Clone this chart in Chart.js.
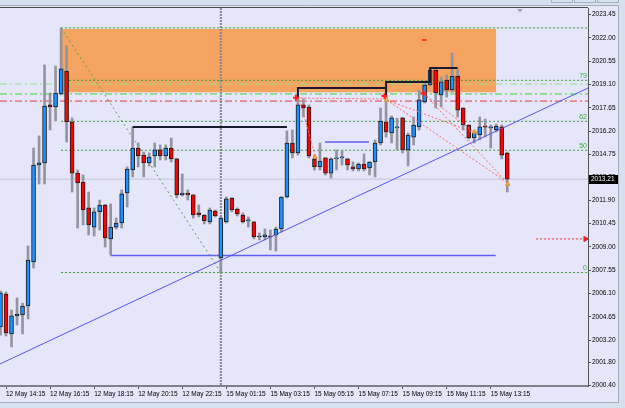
<!DOCTYPE html>
<html>
<head>
<meta charset="utf-8">
<script src="https://cdn.jsdelivr.net/npm/chart.js@4.4.1/dist/chart.umd.min.js"></script>
<style>
  html, body { margin: 0; padding: 0; background: #e6e6fa; overflow: hidden; }
  canvas { display: block; }
</style>
</head>
<body>
<canvas id="chart" width="625" height="408"></canvas>
<script>
// 15 minute candles, bar -1 .. 91 (bar 0 = 12 May 14:15)
var firstBar = -1;
var opens  = [2004.01, 2006.06, 2003.58, 2004.70, 2004.76, 2005.32, 2008.06, 2014.09, 2014.22, 2017.83,
              2017.70, 2018.51, 2019.94, 2016.77, 2013.59, 2013.03, 2011.42, 2010.23, 2011.17, 2011.60,
              2009.49, 2010.23, 2010.48, 2012.35, 2013.78, 2015.15, 2014.71, 2014.22, 2014.65, 2015.03,
              2014.65, 2015.15, 2014.47, 2012.23, 2012.35, 2012.23, 2011.11, 2010.98, 2010.55, 2011.23,
              2008.31, 2010.55, 2012.04, 2011.35, 2010.98, 2010.61, 2010.55, 2009.61, 2009.61, 2009.67,
              2009.74, 2010.11, 2012.10, 2015.46, 2014.84, 2017.83, 2017.70, 2014.47, 2013.97, 2014.53,
              2013.59, 2014.47, 2014.53, 2014.47, 2013.97, 2013.84, 2014.15, 2013.91, 2014.28, 2015.46,
              2016.77, 2016.08, 2016.40, 2017.02, 2015.03, 2015.83, 2016.46, 2018.01, 2019.07, 2020.00,
              2018.45, 2019.38, 2018.76, 2019.63, 2017.64, 2016.58, 2015.77, 2015.96, 2016.46, 2016.40,
              2016.27, 2016.46, 2014.84];
var highs  = [2006.25, 2006.19, 2005.07, 2005.82, 2005.50, 2009.05, 2015.15, 2015.90, 2020.32, 2018.57,
              2020.25, 2022.62, 2021.50, 2017.02, 2013.78, 2013.47, 2012.41, 2011.42, 2011.91, 2011.65,
              2011.67, 2010.79, 2012.54, 2013.97, 2016.46, 2015.46, 2014.90, 2014.84, 2015.46, 2015.34,
              2015.34, 2015.77, 2014.50, 2013.53, 2012.54, 2012.25, 2011.60, 2011.00, 2011.42, 2011.29,
              2010.86, 2012.10, 2012.06, 2011.42, 2011.11, 2010.86, 2010.57, 2009.86, 2010.11, 2010.05,
              2010.23, 2012.12, 2016.21, 2016.27, 2018.32, 2018.20, 2017.83, 2014.71, 2015.46, 2014.55,
              2014.53, 2015.03, 2014.96, 2014.50, 2014.28, 2014.22, 2014.78, 2014.30, 2015.65, 2017.64,
              2018.32, 2017.14, 2017.00, 2017.05, 2016.08, 2017.08, 2018.76, 2019.26, 2020.13, 2020.07,
              2019.57, 2019.69, 2021.06, 2020.00, 2017.66, 2016.60, 2016.21, 2017.08, 2016.95, 2016.58,
              2016.64, 2016.58, 2014.90];
var lows   = [2003.51, 2003.45, 2002.77, 2004.14, 2003.58, 2004.51, 2007.68, 2012.91, 2012.91, 2016.27,
              2016.83, 2018.45, 2015.52, 2012.41, 2010.17, 2010.36, 2009.74, 2009.67, 2010.05, 2008.99,
              2008.49, 2010.11, 2010.17, 2011.48, 2013.35, 2013.97, 2013.35, 2014.03, 2013.97, 2014.40,
              2014.40, 2014.28, 2012.04, 2012.16, 2011.91, 2010.79, 2010.86, 2010.42, 2010.42, 2010.86,
              2007.40, 2010.48, 2011.17, 2010.92, 2010.48, 2010.23, 2009.49, 2009.43, 2009.43, 2008.80,
              2008.74, 2009.92, 2012.04, 2014.53, 2014.71, 2017.08, 2014.53, 2013.78, 2013.78, 2013.47,
              2013.28, 2013.78, 2014.09, 2013.78, 2013.72, 2013.72, 2013.72, 2013.47, 2013.35, 2015.34,
              2015.83, 2015.46, 2015.03, 2014.84, 2014.03, 2015.34, 2016.27, 2017.95, 2019.01, 2017.64,
              2017.70, 2018.32, 2018.63, 2017.08, 2016.27, 2015.71, 2015.46, 2015.65, 2015.83, 2015.15,
              2016.15, 2014.47, 2012.41];
var closes = [2006.13, 2003.64, 2004.70, 2004.82, 2005.32, 2008.18, 2014.09, 2014.22, 2017.76, 2017.70,
              2018.57, 2020.07, 2016.77, 2013.59, 2012.97, 2011.29, 2010.36, 2011.17, 2011.60, 2009.55,
              2010.23, 2010.48, 2012.29, 2013.84, 2015.15, 2014.65, 2014.22, 2014.59, 2015.03, 2014.65,
              2015.15, 2014.47, 2012.23, 2012.35, 2012.23, 2010.98, 2010.98, 2010.61, 2011.29, 2010.92,
              2010.79, 2011.98, 2011.29, 2011.04, 2010.55, 2010.62, 2009.61, 2009.62, 2009.74, 2009.61,
              2010.11, 2012.10, 2015.46, 2014.84, 2017.83, 2017.64, 2014.65, 2013.97, 2014.34, 2013.59,
              2014.47, 2014.48, 2014.54, 2014.09, 2013.84, 2014.15, 2013.84, 2014.28, 2015.46, 2016.83,
              2016.15, 2017.02, 2016.42, 2015.03, 2015.96, 2016.58, 2018.14, 2019.07, 2020.00, 2018.57,
              2019.26, 2018.76, 2019.63, 2017.51, 2016.58, 2015.77, 2016.08, 2016.46, 2016.45, 2016.41,
              2016.52, 2014.71, 2013.21];

// axis ticks
var yTicks = [2000.40, 2001.80, 2003.20, 2004.65, 2006.10, 2007.55, 2009.00, 2010.45, 2011.90,
              2013.35, 2014.75, 2016.20, 2017.65, 2019.10, 2020.55, 2022.00, 2023.45];
var xTickBars = [0, 8, 16, 24, 32, 40, 48, 56, 64, 72, 80, 88];
var xTickLabels = ['12 May 14:15', '12 May 16:15', '12 May 18:15', '12 May 20:15', '12 May 22:15',
                   '15 May 01:15', '15 May 03:15', '15 May 05:15', '15 May 07:15', '15 May 09:15',
                   '15 May 11:15', '15 May 13:15'];

// drawn objects
var zone = { fromBar: 10, toBar: 89, top: 2022.56, bottom: 2018.62 };
var fibPrices = [2007.40, 2015.01, 2016.81, 2019.36, 2022.62];
var fibNames = ['0', '50', '62', '79', ''];
var fibTrend = [[10, 2022.62], [39, 2007.40]];
var dashDotLevels = [2019.13, 2018.51, 2018.07];
var bidPrice = 2013.21;
var trendLine = [[-1.09, 2001.71], [105.66, 2018.88]];
var supportLines = [[[19, 2008.46], [88.9, 2008.46]], [[57.9, 2015.52], [65.9, 2015.52]]];
var stepLines = [
  [[23, 2016.46], [51, 2016.46]],
  [[53, 2018.32], [53, 2018.88], [69, 2018.88]],
  [[69, 2018.32], [69, 2019.26], [77, 2019.26], [77, 2020.13], [82, 2020.13]]
];
var redDotLines = [
  [[52.7, 2018.26], [68.8, 2018.20]],
  [[53.3, 2018.14], [56.2, 2014.59]],
  [[69.1, 2018.14], [85.1, 2016.10]],
  [[69.1, 2018.14], [91.0, 2013.00]],
  [[75.8, 2018.55], [85.1, 2016.10]],
  [[75.8, 2018.55], [91.0, 2013.00]]
];
var redCrosses = [[52.65, 2018.28], [68.7, 2018.39], [75.8, 2018.55]];
var orangeMarks = [[56.1, 2014.59], [69.1, 2018.14], [85.1, 2016.15], [91.1, 2012.91]];
var redDash = [[75.5, 2021.87], [76.4, 2021.87]];
var alertLine = [[96.2, 2009.49], [104.8, 2009.49]];
var alertArrow = [[105.2, 2009.49]];
var separatorBar = 39;

var xMin = -1.09, xMax = 105.66;
var yMin = 2000.34, yMax = 2023.86;

function pts(list) {
  return list.map(function (p) { return { x: p[0], y: p[1] }; });
}

function lineSet(list, color, width, dash, order) {
  return {
    type: 'line',
    data: pts(list),
    borderColor: color,
    borderWidth: width,
    borderDash: dash || [],
    pointRadius: 0,
    fill: false,
    tension: 0,
    order: order
  };
}

var wickData = [], bodyData = [];
for (var i = 0; i < opens.length; i++) {
  wickData.push({ x: firstBar + i, y: [lows[i], highs[i]] });
  bodyData.push({ x: firstBar + i, y: [opens[i], closes[i]] });
}

var datasets = [];

// orange zone (filled band)
datasets.push({
  type: 'line',
  data: pts([[zone.fromBar, zone.top], [zone.toBar, zone.top]]),
  borderWidth: 0,
  borderColor: 'rgba(0,0,0,0)',
  pointRadius: 0,
  fill: { target: { value: zone.bottom }, above: '#f4a460', below: '#f4a460' },
  order: 20
});

// fibo levels
fibPrices.forEach(function (p) {
  datasets.push(lineSet([[10, p], [105.5, p]], '#3a9a3a', 1, [2, 2], 15));
});
datasets.push(lineSet(fibTrend, '#4aa84a', 1, [2, 3], 15));

// full width dash-dot levels
var dashDotColors = ['#90e090', '#3cd23c', '#e83a3a'];
dashDotLevels.forEach(function (p, k) {
  datasets.push(lineSet([[xMin, p], [xMax, p]], dashDotColors[k], 1, [7, 3, 2, 3], 14));
});

// bid line and period separator
datasets.push(lineSet([[xMin, bidPrice], [xMax, bidPrice]], '#c4c4d0', 1, [], 16));
datasets.push(lineSet([[separatorBar, yMax], [separatorBar, yMin]], '#86868f', 2, [2, 1], 16));

// support lines
supportLines.forEach(function (l) {
  datasets.push(lineSet(l, '#6060ee', 1.5, [], 12));
});

// candles
datasets.push({
  type: 'bar',
  data: wickData,
  backgroundColor: '#9494a0',
  barThickness: 2,
  grouped: false,
  order: 6
});
datasets.push({
  type: 'bar',
  data: bodyData,
  backgroundColor: function (c) {
    var v = c.raw && c.raw.y;
    if (!v) return '#1e90ff';
    return v[1] >= v[0] ? '#1e90ff' : '#ff0000';
  },
  borderColor: '#1c1c1c',
  borderWidth: 1,
  borderSkipped: false,
  barThickness: 4,
  minBarLength: 1,
  grouped: false,
  order: 5
});

// step lines over candles
stepLines.forEach(function (l) {
  datasets.push(lineSet(l, '#1a1a30', 2, [], 3));
});

// trend line and red dotted fan
datasets.push(lineSet(trendLine, '#5555ee', 1, [], 2));
redDotLines.forEach(function (l) {
  datasets.push(lineSet(l, '#ff6a6a', 1, [2, 2], 2));
});
datasets.push(lineSet(redDash, '#ee2020', 1.5, [], 2));
datasets.push(lineSet(alertLine, '#ee3030', 1, [2, 2], 2));

// markers
datasets.push({
  type: 'line', data: pts(redCrosses), showLine: false,
  pointStyle: 'cross', pointRadius: 3, pointBorderWidth: 2,
  pointBorderColor: '#ff2020', order: 1
});
datasets.push({
  type: 'line', data: pts(orangeMarks), showLine: false,
  pointStyle: 'triangle', pointRadius: 2.5, pointBorderWidth: 1,
  pointBackgroundColor: '#f5b04a', pointBorderColor: '#e09030', order: 1
});
datasets.push({
  type: 'line', data: pts(alertArrow), showLine: false,
  pointStyle: 'triangle', pointRadius: 3, pointRotation: 90, pointBorderWidth: 1,
  pointBackgroundColor: '#ee2020', pointBorderColor: '#ee2020', order: 1
});

var tickFont = { family: 'Liberation Sans', size: 6.5 };

// window frame around the chart
var framePlugin = {
  id: 'frame',
  beforeDraw: function (chart) {
    var c = chart.ctx;
    c.save();
    c.fillStyle = '#e6e6fa';
    c.fillRect(0, 0, 625, 408);
    c.fillStyle = '#d7e0ee';
    c.fillRect(0, 0, 625, 5);
    c.fillRect(0, 403, 625, 5);
    c.fillRect(619, 0, 6, 408);
    c.strokeStyle = '#a6acb8';
    c.lineWidth = 1;
    c.beginPath();
    c.moveTo(0, 5.5); c.lineTo(619, 5.5);
    c.moveTo(0, 402.5); c.lineTo(619, 402.5);
    c.moveTo(618.5, 5); c.lineTo(618.5, 403);
    c.stroke();
    // buttons
    c.strokeStyle = '#aab2c0';
    [551, 574, 597].forEach(function (bx) {
      c.strokeRect(bx + 0.5, -3.5, 21, 6);
    });
    c.strokeStyle = '#4a4a4a';
    c.beginPath();
    c.moveTo(0, 7.5); c.lineTo(588, 7.5);
    c.stroke();
    c.restore();
  },
  afterDraw: function (chart) {
    var c = chart.ctx;
    var ys = chart.scales.y, xs = chart.scales.x;
    c.save();
    // fibo level labels
    c.font = '7px "Liberation Sans"';
    c.fillStyle = '#3caa3c';
    c.textAlign = 'right';
    c.textBaseline = 'bottom';
    fibPrices.forEach(function (p, k) {
      if (fibNames[k]) c.fillText(fibNames[k], 587, ys.getPixelForValue(p) - 1);
    });
    // current price box
    var py = Math.round(ys.getPixelForValue(closes[closes.length - 1]));
    c.fillStyle = '#000';
    c.fillRect(589, py - 4, 29, 9);
    c.fillStyle = '#fff';
    c.font = '6.5px "Liberation Sans"';
    c.textAlign = 'left';
    c.textBaseline = 'middle';
    c.fillText(closes[closes.length - 1].toFixed(2), 591, py + 0.5);
    // chart shift marker
    var sx = xs.getPixelForValue(93.3);
    c.fillStyle = '#a4a4b0';
    c.beginPath();
    c.moveTo(sx - 3, 9); c.lineTo(sx + 3, 9); c.lineTo(sx, 12.5);
    c.closePath();
    c.fill();
    c.restore();
  }
};

var ctx = document.getElementById('chart').getContext('2d');
var chart = new Chart(ctx, {
  type: 'bar',
  data: { datasets: datasets },
  options: {
    responsive: false,
    animation: false,
    devicePixelRatio: 1,
    layout: { autoPadding: false, padding: { top: 8, left: 0, right: 0, bottom: 0 } },
    plugins: {
      legend: { display: false },
      tooltip: { enabled: false }
    },
    scales: {
      x: {
        type: 'linear',
        min: xMin,
        max: xMax,
        offset: false,
        grid: { offset: false, drawOnChartArea: false, drawTicks: true, tickLength: 3, color: '#555' },
        border: { color: '#80808c', width: 2 },
        ticks: {
          autoSkip: false,
          maxRotation: 0,
          align: 'start',
          padding: 1,
          color: '#000',
          font: tickFont,
          callback: function (v, idx) { return xTickLabels[idx]; }
        },
        afterBuildTicks: function (s) {
          s.ticks = xTickBars.map(function (v) { return { value: v }; });
        },
        afterFit: function (s) { s.height = 22; }
      },
      y: {
        type: 'linear',
        position: 'right',
        min: yMin,
        max: yMax,
        beginAtZero: false,
        grid: { drawOnChartArea: false, drawTicks: true, tickLength: 3, color: '#555' },
        border: { color: '#555', width: 1 },
        ticks: {
          autoSkip: false,
          padding: 1,
          color: '#000',
          font: tickFont,
          callback: function (v) { return Number(v).toFixed(2); }
        },
        afterBuildTicks: function (s) {
          s.ticks = yTicks.map(function (v) { return { value: v }; });
        },
        afterFit: function (s) { s.width = 37; }
      }
    }
  },
  plugins: [framePlugin]
});
</script>
</body>
</html>
